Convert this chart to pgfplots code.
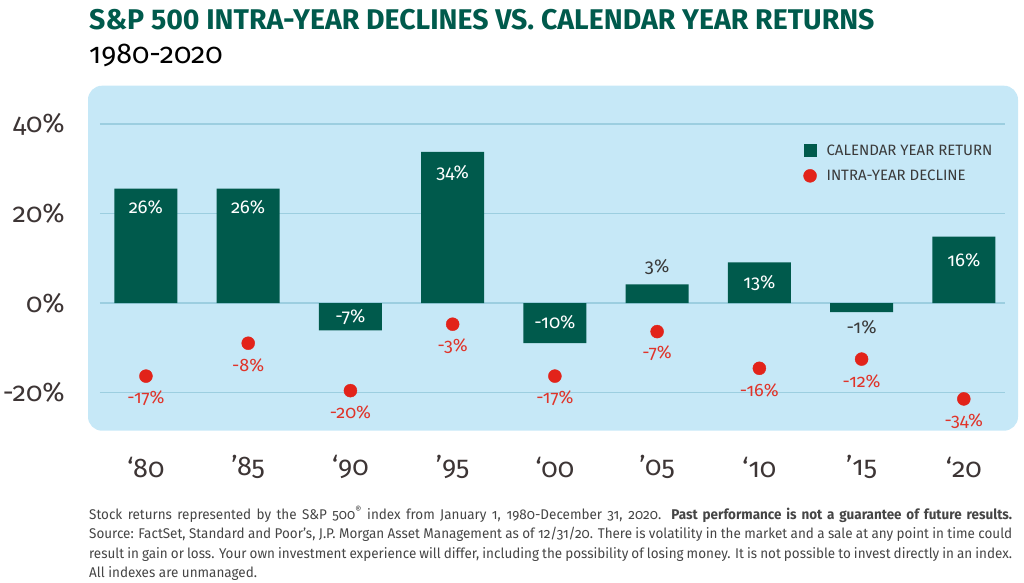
\documentclass[border=0pt]{standalone}
\usepackage{pgfplots}
\usepackage{pgfplotstable}
\pgfplotsset{compat=1.18}
\usepackage{fontspec}
\setmainfont{Fira Sans}[Numbers=OldStyle]
\newfontfamily\titlefont{Fira Sans}[Numbers=Lining]
\newfontfamily\notefont{Fira Sans}[Numbers=OldStyle, FakeStretch=0.955]

\definecolor{dkgreen}{HTML}{005A4C}
\definecolor{bluebg}{HTML}{C6E8F7}
\definecolor{gridblue}{HTML}{9CCEE0}
\definecolor{dotred}{HTML}{E2231A}
\definecolor{redtxt}{HTML}{E0342A}
\definecolor{txtgray}{HTML}{3A3A3A}
\definecolor{notegray}{HTML}{454545}
\definecolor{tickgray}{HTML}{3D3535}

% calendar year return (bars) and intra-year decline (dots), as drawn
\pgfplotstableread{
x ret dec
0 25.6 -16.3
1 25.6 -8.95
2 -6.1 -19.55
3 33.8 -4.7
4 -8.95 -16.3
5 4.2 -6.35
6 9.1 -14.55
7 -2.0 -12.5
8 14.9 -21.4
}\data

% label positions
\pgfplotstableread{
x y lab
0 21.4 26\%
1 21.4 26\%
2 -3.0 -7\%
3 29.15 34\%
4 -4.35 -10\%
6 4.6 13\%
8 9.7 16\%
}\whitelabels

\pgfplotstableread{
x y lab
5 8.1 3\%
7 -5.3 -1\%
}\graylabels

\pgfplotstableread{
x y lab
0 -21.2 -17\%
1 -13.8 -8\%
2 -24.4 -20\%
3 -9.7 -3\%
4 -21.25 -17\%
5 -11.2 -7\%
6 -19.4 -16\%
7 -17.5 -12\%
8 -26.3 -34\%
}\redlabels

\begin{document}
\begin{tikzpicture}
\useasboundingbox (0,0) rectangle (1024pt,582pt);

\node[anchor=base west, inner sep=0pt, text=dkgreen,
  font=\titlefont\bfseries\fontsize{28.5}{30}\selectfont]
  at (89pt,552.5pt) {S\&P 500 INTRA-YEAR DECLINES VS.\ CALENDAR YEAR RETURNS};
\node[anchor=base west, inner sep=0pt, text=black,
  font=\fontsize{28.6}{30}\selectfont]
  at (89pt,518.5pt) {1980-2020};

\begin{axis}[
  at={(88pt,151.3pt)}, anchor=south west,
  width=930pt, height=345pt, scale only axis,
  xmin=-0.567, xmax=8.53, ymin=-28.5, ymax=48.6,
  axis line style={draw=none},
  axis background/.style={fill=bluebg, rounded corners=14pt},
  tick style={draw=none},
  major tick length=0pt,
  xtick={0,...,8},
  xticklabels={‘80,’85,‘90,’95,‘00,’05,‘10,’15,‘20},
  ytick={-20,0,20,40},
  yticklabels={-20\%,0\%,20\%,40\%},
  yticklabel style={anchor=east, inner sep=0pt, xshift=-23pt,
    font=\fontsize{27}{27}\selectfont, text=tickgray},
  xticklabel style={anchor=center, inner sep=0pt, yshift=-36.3pt,
    font=\fontsize{27}{27}\selectfont, text=tickgray},
  legend style={at={(0.769,0.835)}, anchor=north west, draw=none, fill=none,
    inner sep=0pt, row sep=9pt, font=\fontsize{15}{15}\selectfont,
    text=txtgray, cells={anchor=west}},
  clip=false,
]
\draw[gridblue, line width=1.5pt] (axis cs:-0.45,-20) -- (axis cs:8.405,-20);
\draw[gridblue, line width=1.5pt] (axis cs:-0.45,0) -- (axis cs:8.405,0);
\draw[gridblue, line width=1.5pt] (axis cs:-0.45,20) -- (axis cs:8.405,20);
\draw[gridblue, line width=1.5pt] (axis cs:-0.45,40) -- (axis cs:8.405,40);

\addplot[ybar, bar width=63pt, fill=dkgreen, draw=none,
  legend image code/.code={\fill[dkgreen] (0pt,-6.5pt) rectangle (13pt,6.5pt);
    \path[draw=none, fill=none] (0pt,0pt) -- (21pt,0pt);}]
  table[x=x, y=ret] {\data};
\addlegendentry{CALENDAR YEAR RETURN}

\addplot[only marks, mark=*, mark size=6.5pt, color=dotred,
  mark options={fill=dotred, draw=none},
  legend image code/.code={\fill[dotred] (6.5pt,0pt) circle (6.5pt);
    \path[draw=none, fill=none] (0pt,0pt) -- (21pt,0pt);}]
  table[x=x, y=dec] {\data};
\addlegendentry{INTRA-YEAR DECLINE}

\addplot[only marks, mark=none, forget plot, point meta=explicit symbolic,
  nodes near coords={\pgfplotspointmeta},
  nodes near coords style={anchor=center, inner sep=0pt, text=white,
    font=\fontsize{18.5}{18.5}\selectfont}]
  table[x=x, y=y, meta=lab] {\whitelabels};
\addplot[only marks, mark=none, forget plot, point meta=explicit symbolic,
  nodes near coords={\pgfplotspointmeta},
  nodes near coords style={anchor=center, inner sep=0pt, text=txtgray,
    font=\fontsize{18.5}{18.5}\selectfont}]
  table[x=x, y=y, meta=lab] {\graylabels};
\addplot[only marks, mark=none, forget plot, point meta=explicit symbolic,
  nodes near coords={\pgfplotspointmeta},
  nodes near coords style={anchor=center, inner sep=0pt, text=redtxt,
    font=\fontsize{18}{18}\selectfont}]
  table[x=x, y=y, meta=lab] {\redlabels};
\end{axis}

\node[anchor=base west, inner sep=0pt, text width=923pt, align=justify,
  text=notegray, font=\notefont\fontsize{14.1}{19.6}\selectfont]
  at (89pt,63pt) {Stock returns represented by the S\&P 500\textsuperscript{®} index from January 1, 1980-December 31, 2020. \textbf{Past performance is not a guarantee of future results.}\linebreak
Source: FactSet, Standard and Poor’s, J.P. Morgan Asset Management as of 12/31/20. There is volatility in the market and a sale at any point in time could\linebreak
result in gain or loss. Your own investment experience will differ, including the possibility of losing money. It is not possible to invest directly in an index.\linebreak
All indexes are unmanaged.};
\end{tikzpicture}
\end{document}
